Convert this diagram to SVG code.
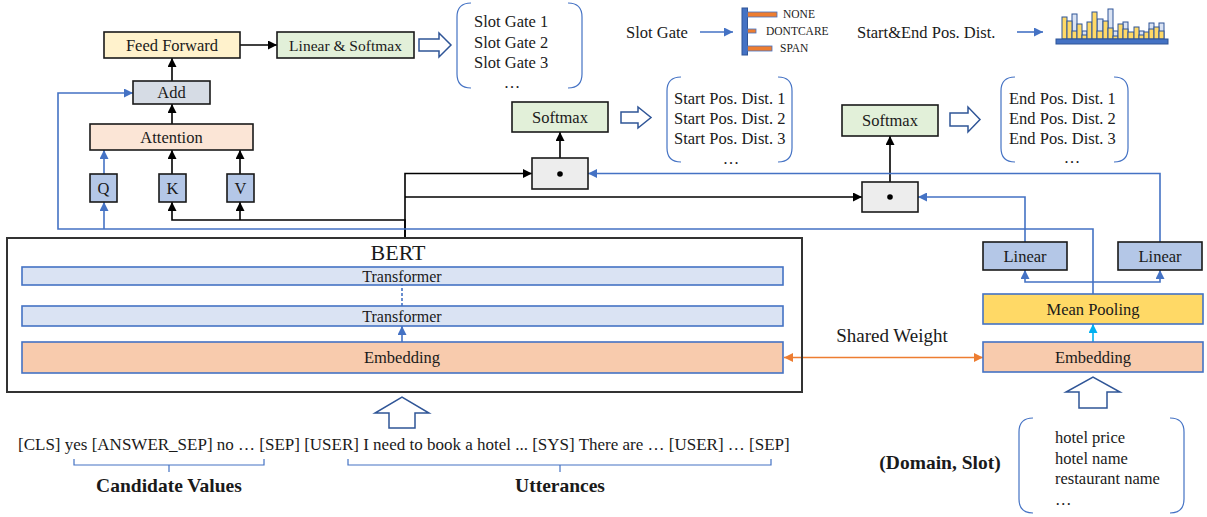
<svg xmlns="http://www.w3.org/2000/svg" width="1207" height="517" viewBox="0 0 1207 517">
  <style>
    text { font-family: "Liberation Serif", "Times New Roman", serif; fill: #1a1a1a; }
    .lbl { font-size: 16.5px; text-anchor: middle; }
    .lst { font-size: 16.5px; }
    .bold { font-weight: bold; font-size: 19.5px; text-anchor: middle; }
    .box { stroke: #1a1a1a; stroke-width: 1.6; }
    .bbox { stroke: #4472C4; stroke-width: 1.6; }
    .blk { fill: none; stroke: #000; stroke-width: 1.6; }
    .blu { fill: none; stroke: #4472C4; stroke-width: 1.6; }
    .brk { fill: none; stroke: #4472C4; stroke-width: 1.2; }
    .hollow { fill: #fff; stroke: #2F5597; stroke-width: 1.5; }
    .bar { stroke: #2F5597; stroke-width: 1; }
  </style>
  <defs>
    <marker id="ah-black" viewBox="0 0 10 10" refX="10" refY="5" markerWidth="9" markerHeight="9" markerUnits="userSpaceOnUse" orient="auto-start-reverse">
      <path d="M0,0 L10,5 L0,10 z" fill="#000"/>
    </marker>
    <marker id="ah-blue" viewBox="0 0 10 10" refX="10" refY="5" markerWidth="9" markerHeight="9" markerUnits="userSpaceOnUse" orient="auto-start-reverse">
      <path d="M0,0 L10,5 L0,10 z" fill="#4472C4"/>
    </marker>
    <marker id="ah-orange" viewBox="0 0 10 10" refX="10" refY="5" markerWidth="9" markerHeight="9" markerUnits="userSpaceOnUse" orient="auto-start-reverse">
      <path d="M0,0 L10,5 L0,10 z" fill="#ED7D31"/>
    </marker>
    <marker id="ah-cyan" viewBox="0 0 10 10" refX="10" refY="5" markerWidth="9" markerHeight="9" markerUnits="userSpaceOnUse" orient="auto-start-reverse">
      <path d="M0,0 L10,5 L0,10 z" fill="#00B0F0"/>
    </marker>
  </defs>

  <rect width="1207" height="517" fill="#fff"/>

  <!-- connectors -->
  <g id="connectors">
    <line class="blk" x1="240" y1="45" x2="277" y2="45" marker-end="url(#ah-black)"/>
    <line class="blk" x1="172" y1="81" x2="172" y2="58" marker-end="url(#ah-black)"/>
    <line class="blk" x1="172" y1="124" x2="172" y2="104" marker-end="url(#ah-black)"/>
    <line class="blu" x1="104" y1="174" x2="104" y2="150" marker-end="url(#ah-blue)"/>
    <line class="blk" x1="172" y1="174" x2="172" y2="150" marker-end="url(#ah-black)"/>
    <line class="blk" x1="240" y1="174" x2="240" y2="150" marker-end="url(#ah-black)"/>
    <!-- BERT output to K, V and the two dot products -->
    <path class="blk" d="M405,238 L405,220 L172,220 L172,202" marker-end="url(#ah-black)"/>
    <path class="blk" d="M240,220 L240,202" marker-end="url(#ah-black)"/>
    <path class="blk" d="M405,238 L405,173.5 L532,173.5" marker-end="url(#ah-black)"/>
    <path class="blk" d="M405,197 L862,197" marker-end="url(#ah-black)"/>
    <line class="blk" x1="560" y1="158" x2="560" y2="132" marker-end="url(#ah-black)"/>
    <line class="blk" x1="890" y1="182" x2="890" y2="136" marker-end="url(#ah-black)"/>
    <!-- slot representation to Q and residual Add -->
    <path class="blu" d="M1093,294 L1093,229 L58,229 L58,93 L133,93" marker-end="url(#ah-blue)"/>
    <path class="blu" d="M104,229 L104,202" marker-end="url(#ah-blue)"/>
    <!-- mean pooling to the two linear heads -->
    <path class="blu" d="M1025,270 L1025,282 L1160,282 L1160,270" marker-start="url(#ah-blue)" marker-end="url(#ah-blue)"/>
    <path class="blu" d="M1025,242 L1025,197 L918,197" marker-end="url(#ah-blue)"/>
    <path class="blu" d="M1160,242 L1160,173.5 L588,173.5" marker-end="url(#ah-blue)"/>
    <line x1="1093" y1="342" x2="1093" y2="324" stroke="#00B0F0" stroke-width="1.6" marker-end="url(#ah-cyan)"/>
    <line x1="784" y1="357.5" x2="983" y2="357.5" stroke="#ED7D31" stroke-width="1.6" marker-start="url(#ah-orange)" marker-end="url(#ah-orange)"/>
    <!-- inside BERT -->
    <line class="blu" x1="402" y1="342" x2="402" y2="326" marker-end="url(#ah-blue)"/>
    <line class="blu" x1="402" y1="306" x2="402" y2="285" stroke-dasharray="3,2"/>
    <!-- legend arrows -->
    <line class="blu" x1="700" y1="32" x2="733" y2="32" marker-end="url(#ah-blue)"/>
    <line class="blu" x1="1017" y1="32" x2="1043" y2="32" marker-end="url(#ah-blue)"/>
  </g>

  <!-- slot gate branch -->
  <g id="feed-forward">
    <rect class="box" x="104" y="32" width="136" height="26" fill="#FFF2CC"/>
    <text class="lbl" x="172" y="50.5">Feed Forward</text>
  </g>
  <g id="linear-softmax">
    <rect class="box" x="277" y="32" width="137" height="26" fill="#E2F0D9"/>
    <text class="lbl" x="345.5" y="50.5" style="font-size:15.5px">Linear &amp; Softmax</text>
  </g>
  <g id="add">
    <rect class="box" x="133" y="81" width="77" height="23" fill="#D6DCE5"/>
    <text class="lbl" x="171.5" y="98">Add</text>
  </g>
  <g id="attention">
    <rect class="box" x="90" y="124" width="163" height="26" fill="#FBE5D6"/>
    <text class="lbl" x="171.5" y="142.5">Attention</text>
  </g>
  <g id="q">
    <rect class="box" x="90" y="174" width="27" height="28" fill="#B4C7E7"/>
    <text class="lbl" x="103.5" y="194">Q</text>
  </g>
  <g id="k">
    <rect class="box" x="159" y="174" width="27" height="28" fill="#B4C7E7"/>
    <text class="lbl" x="172.5" y="194">K</text>
  </g>
  <g id="v">
    <rect class="box" x="227" y="174" width="27" height="28" fill="#B4C7E7"/>
    <text class="lbl" x="240.5" y="194">V</text>
  </g>
  <g id="slot-gate-out">
    <path class="hollow" d="M419,39 L439,39 L439,33 L451,45 L439,57 L439,51 L419,51 z"/>
    <path class="brk" d="M471,3 Q457,3 457,17 L457,74 Q457,88 471,88 M568,3 Q582,3 582,17 L582,74 Q582,88 568,88"/>
    <text class="lst" x="474" y="27">Slot Gate 1</text>
    <text class="lst" x="474" y="47.5">Slot Gate 2</text>
    <text class="lst" x="474" y="67.5">Slot Gate 3</text>
    <text class="lst" x="512" y="88" text-anchor="middle">…</text>
  </g>

  <!-- start position branch -->
  <g id="dot-start">
    <rect class="box" x="532" y="158" width="56" height="31" fill="#EDEDED"/>
    <circle cx="560" cy="174" r="2.8" fill="#000"/>
  </g>
  <g id="softmax-start">
    <rect class="box" x="512" y="102" width="96" height="30" fill="#E2F0D9"/>
    <text class="lbl" x="560" y="122.5">Softmax</text>
  </g>
  <g id="start-out">
    <path class="hollow" d="M621,112 L638,112 L638,107 L651,117.5 L638,128 L638,123 L621,123 z"/>
    <path class="brk" d="M681,77 Q667,77 667,91 L667,148 Q667,162 681,162 M778,77 Q792,77 792,91 L792,148 Q792,162 778,162"/>
    <text class="lst" x="674" y="103.5">Start Pos. Dist. 1</text>
    <text class="lst" x="674" y="123.5">Start Pos. Dist. 2</text>
    <text class="lst" x="674" y="143.5">Start Pos. Dist. 3</text>
    <text class="lst" x="731" y="164" text-anchor="middle">…</text>
  </g>

  <!-- end position branch -->
  <g id="dot-end">
    <rect class="box" x="862" y="182" width="56" height="30" fill="#EDEDED"/>
    <circle cx="890" cy="197" r="2.8" fill="#000"/>
  </g>
  <g id="softmax-end">
    <rect class="box" x="842" y="105" width="96" height="31" fill="#E2F0D9"/>
    <text class="lbl" x="890" y="126">Softmax</text>
  </g>
  <g id="end-out">
    <path class="hollow" d="M950,113 L968,113 L968,107 L980,119.5 L968,132 L968,126 L950,126 z"/>
    <path class="brk" d="M1015,77 Q1001,77 1001,91 L1001,148 Q1001,162 1015,162 M1114,77 Q1128,77 1128,91 L1128,148 Q1128,162 1114,162"/>
    <text class="lst" x="1009" y="103.5">End Pos. Dist. 1</text>
    <text class="lst" x="1009" y="123.5">End Pos. Dist. 2</text>
    <text class="lst" x="1009" y="143.5">End Pos. Dist. 3</text>
    <text class="lst" x="1072" y="163" text-anchor="middle">…</text>
  </g>

  <!-- legend: slot gate -->
  <g id="legend-slot-gate">
    <text class="lst" x="626" y="38">Slot Gate</text>
    <rect x="742" y="8" width="5.5" height="47" fill="#4472C4" stroke="#2F5597" stroke-width="1"/>
    <rect x="747.5" y="12" width="29.5" height="5" fill="#ED7D31" stroke="#4472C4" stroke-width="0.8"/>
    <rect x="747.5" y="29" width="8.5" height="4" fill="#ED7D31" stroke="#4472C4" stroke-width="0.8"/>
    <rect x="747.5" y="46" width="24.5" height="5" fill="#ED7D31" stroke="#4472C4" stroke-width="0.8"/>
    <text x="783" y="18" style="font-size:11.5px">NONE</text>
    <text x="766" y="35" style="font-size:11.5px">DONTCARE</text>
    <text x="780" y="52" style="font-size:11.5px">SPAN</text>
  </g>

  <!-- legend: start/end distribution -->
  <g id="legend-distribution">
    <text class="lst" x="857" y="37.5">Start&amp;End Pos. Dist.</text>
    <g class="bar" fill="#DAE3F3">
      <rect x="1072" y="14" width="5" height="25"/>
      <rect x="1082" y="31" width="5" height="8"/>
      <rect x="1097" y="19" width="6" height="20"/>
      <rect x="1108" y="9" width="5" height="30"/>
      <rect x="1113" y="31" width="5" height="8"/>
      <rect x="1123" y="22" width="5" height="17"/>
      <rect x="1139" y="31" width="5" height="8"/>
      <rect x="1149" y="23" width="5" height="16"/>
      <rect x="1159" y="23" width="5" height="16"/>
    </g>
    <g class="bar" fill="#FFD966">
      <rect x="1062" y="17" width="5" height="22"/>
      <rect x="1067" y="21" width="5" height="18"/>
      <rect x="1072" y="31" width="5" height="8"/>
      <rect x="1077" y="24" width="5" height="15"/>
      <rect x="1082" y="35" width="5" height="4"/>
      <rect x="1087" y="22" width="5" height="17"/>
      <rect x="1092" y="12" width="5" height="27"/>
      <rect x="1097" y="31" width="6" height="8"/>
      <rect x="1103" y="21" width="5" height="18"/>
      <rect x="1108" y="28" width="5" height="11"/>
      <rect x="1113" y="36" width="5" height="3"/>
      <rect x="1118" y="24" width="5" height="15"/>
      <rect x="1123" y="29" width="5" height="10"/>
      <rect x="1128" y="32" width="6" height="7"/>
      <rect x="1134" y="27" width="5" height="12"/>
      <rect x="1139" y="35" width="5" height="4"/>
      <rect x="1144" y="32" width="5" height="7"/>
      <rect x="1149" y="29" width="5" height="10"/>
      <rect x="1154" y="27" width="5" height="12"/>
      <rect x="1159" y="31" width="5" height="8"/>
    </g>
    <rect x="1056" y="39" width="112" height="5" fill="#4472C4" stroke="#2F5597" stroke-width="1"/>
  </g>

  <!-- BERT encoder -->
  <g id="bert">
    <rect x="7" y="238" width="795" height="154" fill="none" stroke="#333" stroke-width="2"/>
    <text x="398" y="260" style="font-size:22px" text-anchor="middle">BERT</text>
  </g>
  <g id="transformer-top">
    <rect class="bbox" x="22" y="267" width="761" height="18" fill="#DAE3F3"/>
    <text class="lbl" x="402" y="282" style="font-size:16px">Transformer</text>
  </g>
  <g id="transformer-bottom">
    <rect class="bbox" x="22" y="306" width="761" height="20" fill="#DAE3F3"/>
    <text class="lbl" x="402" y="322" style="font-size:16px">Transformer</text>
  </g>
  <g id="embedding-bert">
    <rect class="bbox" x="22" y="342" width="761" height="31" fill="#F8CBAD"/>
    <text class="lbl" x="402" y="363">Embedding</text>
  </g>

  <!-- slot encoder -->
  <g id="linear-left">
    <rect class="box" x="983" y="242" width="84" height="28" fill="#B4C7E7"/>
    <text class="lbl" x="1025" y="262">Linear</text>
  </g>
  <g id="linear-right">
    <rect class="box" x="1118" y="242" width="84" height="28" fill="#B4C7E7"/>
    <text class="lbl" x="1160" y="262">Linear</text>
  </g>
  <g id="mean-pooling">
    <rect class="bbox" x="983" y="294" width="220" height="30" fill="#FFD966"/>
    <text class="lbl" x="1093" y="315">Mean Pooling</text>
  </g>
  <g id="embedding-slot">
    <rect class="bbox" x="983" y="342" width="220" height="30" fill="#F8CBAD"/>
    <text class="lbl" x="1093" y="363">Embedding</text>
  </g>
  <g id="shared-weight">
    <text x="892" y="342" style="font-size:19px" text-anchor="middle">Shared Weight</text>
  </g>

  <!-- input sequence -->
  <g id="bert-input">
    <path class="hollow" d="M389,428 L389,413 L375,413 L402,397 L429,413 L415,413 L415,428 z"/>
    <text x="18" y="450" style="font-size:17px">[CLS] yes [ANSWER_SEP] no … [SEP] [USER] I need to book a hotel ... [SYS] There are … [USER] … [SEP]</text>
    <path class="brk" d="M74,459 L74,465 L264,465 L264,459 M169,465 L169,472"/>
    <path class="brk" d="M348,459 L348,465 L771,465 L771,459 M560,465 L560,472"/>
    <text class="bold" x="169" y="492">Candidate Values</text>
    <text class="bold" x="560" y="492">Utterances</text>
  </g>

  <!-- slot input -->
  <g id="slot-input">
    <path class="hollow" d="M1079,408 L1079,392 L1066,392 L1093,377 L1120,392 L1107,392 L1107,408 z"/>
    <text class="bold" x="940" y="469">(Domain, Slot)</text>
    <path class="brk" d="M1033,418 Q1019,418 1019,432 L1019,499 Q1019,513 1033,513 M1170,418 Q1184,418 1184,432 L1184,499 Q1184,513 1170,513"/>
    <text class="lst" x="1055" y="443">hotel price</text>
    <text class="lst" x="1055" y="464">hotel name</text>
    <text class="lst" x="1055" y="484">restaurant name</text>
    <text class="lst" x="1055" y="505">…</text>
  </g>
</svg>
